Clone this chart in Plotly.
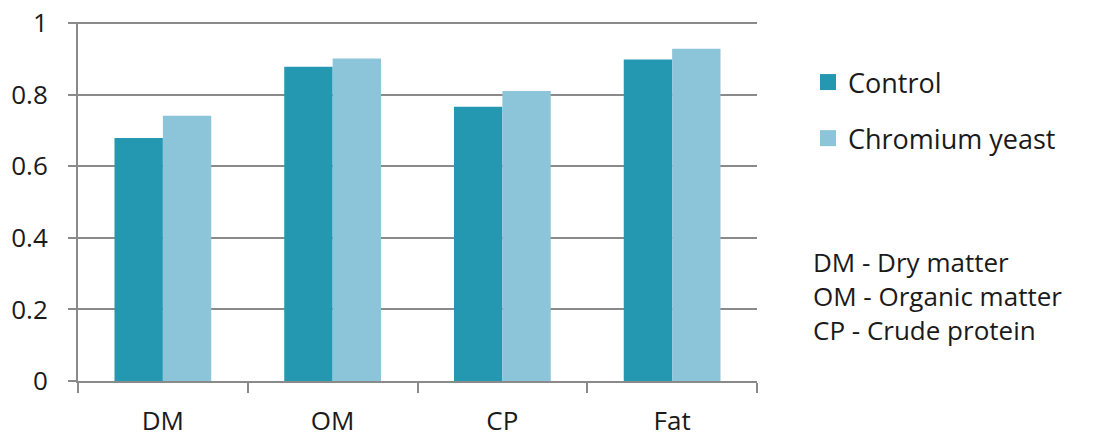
import plotly.graph_objects as go

categories = ["DM", "OM", "CP", "Fat"]
control = [0.679, 0.878, 0.766, 0.898]
chromium = [0.741, 0.901, 0.810, 0.928]
series_names = ["Control", "Chromium yeast"]
colors = ["#2497b1", "#8cc5d9"]
notes = ["DM - Dry matter", "OM - Organic matter", "CP - Crude protein"]
y_ticks = [0, 0.2, 0.4, 0.6, 0.8, 1]
y_ticklabels = ["0", "0.2", "0.4", "0.6", "0.8", "1"]

FONT = "Open Sans"
TXT = "#1a1a1a"
GRID = "#8a8a8a"
W, H = 1095, 438
PL, PR, PT, PB = 78, 757, 22, 381  # plot area in page pixels
L, T = PL, PT
R, B = W - PR, H - PB

def px_x(x):
    return (x - PL) / (PR - PL)

def px_y(y):
    return (PB - y) / (PB - PT)

fig = go.Figure()
for name, vals, col in zip(series_names, [control, chromium], colors):
    fig.add_trace(go.Bar(x=categories, y=vals, name=name, marker_color=col,
                         marker_line_width=0, showlegend=False, legendgroup=name))
# legend entries with larger square swatches
for name, col in zip(series_names, colors):
    fig.add_trace(go.Scatter(x=[None], y=[None], mode="markers", name=name,
                             legendgroup=name,
                             marker=dict(symbol="square", size=16, color=col)))

fig.add_annotation(text="<br>".join(notes), xref="paper", yref="paper",
                   x=px_x(811), y=px_y(296), xanchor="left", yanchor="middle",
                   align="left", showarrow=False,
                   font=dict(family=FONT, size=26, color=TXT))

fig.update_layout(
    width=W, height=H,
    margin=dict(l=L, r=R, t=T, b=B),
    paper_bgcolor="white", plot_bgcolor="white",
    barmode="group", bargap=0.43, bargroupgap=0,
    font=dict(family=FONT, color=TXT),
    legend=dict(x=px_x(808), y=px_y(58), xanchor="left", yanchor="top",
                font=dict(family=FONT, size=27, color=TXT),
                tracegroupgap=18, traceorder="grouped", itemwidth=30,
                bgcolor="rgba(0,0,0,0)"),
    showlegend=True,
)
fig.update_yaxes(range=[0, 1.003], tickvals=y_ticks, ticktext=y_ticklabels,
                 automargin=False, ticklabeloverflow="allow",
                 showgrid=True, gridcolor=GRID, gridwidth=2,
                 showline=True, linecolor=GRID, linewidth=2,
                 ticks="outside", ticklen=8, tickcolor=GRID, tickwidth=2,
                 ticklabelstandoff=15, zeroline=False,
                 tickfont=dict(family=FONT, size=26, color=TXT))
fig.update_xaxes(automargin=False,
                 showline=True, linecolor=GRID, linewidth=2,
                 ticks="outside", tickson="boundaries", ticklen=10,
                 tickcolor=GRID, tickwidth=2, ticklabelstandoff=16,
                 tickfont=dict(family=FONT, size=26, color=TXT))

fig.write_html("out.html", config={"displayModeBar": False},
               post_script="document.body.style.margin='0';document.body.style.overflow='hidden';")
